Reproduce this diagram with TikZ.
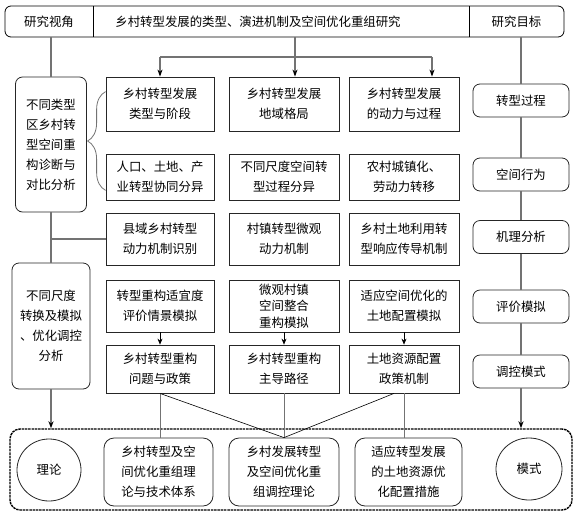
\documentclass[tikz,border=0pt]{standalone}
\usepackage{fontspec}
\setmainfont{Noto Sans CJK SC}
\usetikzlibrary{arrows.meta,shapes.geometric,decorations.pathreplacing}

\begin{document}
\begin{tikzpicture}[x=1pt, y=-1pt,
    font=\fontsize{12.4}{20}\selectfont,
    box/.style={draw=black!85, line width=0.8pt, align=center, inner sep=0pt},
    roundbox/.style={box, rounded corners=7pt},
    goalbox/.style={roundbox, minimum width=96pt, minimum height=33pt},
    link/.style={draw=black!55, line width=1.3pt},
    arrow/.style={link, -{Stealth[length=7pt, width=5pt, black]}},
    thinlink/.style={draw=black, line width=0.6pt},
    shortarrow/.style={thinlink, -{Stealth[length=6pt, width=5pt]}}]
  \useasboundingbox (0,0) rectangle (576,515);

  % Title bar
  \node[draw, line width=0.8pt, rounded corners=6pt, minimum width=559pt, minimum height=31pt] (bar) at (284.5,21.5) {};
  \draw[line width=0.8pt] (93,6) -- (93,37);   % left divider
  \draw[line width=0.8pt] (469,6) -- (469,37); % right divider
  \node (persp) at (49,21.5) {研究视角};
  \node (topic) at (258,21.5) {乡村转型发展的类型、演进机制及空间优化重组研究};
  \node (goal)  at (516.5,21.5) {研究目标};

  % Left column
  \node[roundbox, minimum width=71pt, minimum height=135pt] (l1) at (51,144.5) {不同类型\\区乡村转\\型空间重\\构诊断与\\对比分析};
  \node[roundbox, minimum width=78pt, minimum height=126pt] (l2) at (51,326) {不同尺度\\转换及模拟\\、优化调控\\分析};

  % Middle boxes, row by row
  \node[box, minimum width=108pt, minimum height=54pt] (a1) at (160,104) {乡村转型发展\\类型与阶段};
  \node[box, minimum width=110pt, minimum height=54pt] (a2) at (284,104) {乡村转型发展\\地域格局};
  \node[box, minimum width=110pt, minimum height=54pt] (a3) at (404,104) {乡村转型发展\\的动力与过程};

  \node[box, minimum width=108pt, minimum height=46pt] (b1) at (160,177) {人口、土地、产\\业转型协同分异};
  \node[box, minimum width=110pt, minimum height=46pt] (b2) at (284,177) {不同尺度空间转\\型过程分异};
  \node[box, minimum width=110pt, minimum height=46pt] (b3) at (404,177) {农村城镇化、\\劳动力转移};

  \node[box, minimum width=108pt, minimum height=52pt] (c1) at (160,239) {县域乡村转型\\动力机制识别};
  \node[box, minimum width=110pt, minimum height=52pt] (c2) at (284,239) {村镇转型微观\\动力机制};
  \node[box, minimum width=110pt, minimum height=52pt] (c3) at (404,239) {乡村土地利用转\\型响应传导机制};

  \node[box, minimum width=108pt, minimum height=52pt] (d1) at (160,306) {转型重构适宜度\\评价情景模拟};
  \node[box, minimum width=110pt, minimum height=52pt, font=\fontsize{12.4}{16.5}\selectfont] (d2) at (284,306) {微观村镇\\空间整合\\重构模拟};
  \node[box, minimum width=110pt, minimum height=52pt] (d3) at (404,306) {适应空间优化的\\土地配置模拟};

  \node[box, minimum width=108pt, minimum height=48pt] (e1) at (160,369) {乡村转型重构\\问题与政策};
  \node[box, minimum width=110pt, minimum height=48pt] (e2) at (284,369) {乡村转型重构\\主导路径};
  \node[box, minimum width=110pt, minimum height=48pt] (e3) at (404,369) {土地资源配置\\政策机制};

  % Right column
  \node[goalbox] (g1) at (521,100.5) {转型过程};
  \node[goalbox] (g2) at (521,174.5) {空间行为};
  \node[goalbox] (g3) at (521,237)   {机理分析};
  \node[goalbox] (g4) at (521,306.5) {评价模拟};
  \node[goalbox] (g5) at (521,371.5) {调控模式};

  % Bottom frame
  \node[draw=black, line width=1.4pt, dash pattern=on 2.5pt off 0.8pt, rounded corners=10pt,
        minimum width=562pt, minimum height=81pt] (frame) at (291,469.5) {};
  \node[draw=black!85, line width=0.8pt, ellipse, minimum width=64pt, minimum height=62pt] (theory) at (49,470) {理论};
  \node[draw=black!85, line width=0.8pt, ellipse, minimum width=66pt, minimum height=62pt] (mode) at (529,469) {模式};
  \node[roundbox, rounded corners=10pt, minimum width=109pt, minimum height=68pt] (f1) at (158.5,472) {乡村转型及空\\间优化重组理\\论与技术体系};
  \node[roundbox, rounded corners=10pt, minimum width=110pt, minimum height=68pt] (f2) at (284,472)   {乡村发展转型\\及空间优化重\\组调控理论};
  \node[roundbox, rounded corners=10pt, minimum width=107pt, minimum height=68pt] (f3) at (408.5,472) {适应转型发展\\的土地资源优\\化配置措施};

  % Top fork
  \coordinate (drop1) at (a1.north);
  \coordinate (drop2) at ([xshift=11pt]a2.north);
  \coordinate (drop3) at ([xshift=28pt]a3.north);
  \coordinate (fork) at (295,57);
  \draw[link] (drop1 |- fork) -- (drop3 |- fork);
  \draw[arrow] (drop1 |- fork) -- (drop1);
  \draw[arrow] (drop2 |- bar.south) -- (drop2);
  \draw[arrow] (drop3 |- fork) -- (drop3);

  % Left side
  \draw[link] (l1.north |- bar.south) -- (l1.north);
  \draw[link] (l1.south) -- (l2.north);
  \draw[link] (c1.west) -- (c1.west -| l1.south);
  \draw[arrow] (l2.south) -- (l2.south |- frame.north);
  \draw[link, line width=0.8pt, decorate, decoration={brace, amplitude=18pt}]
    ([yshift=10pt]b1.south west) -- ([yshift=-15pt]a1.north west);

  % Right side
  \draw[link] (g1.north |- bar.south) -- (g1.north);
  \draw[link] (g1.south) -- (g2.north);
  \draw[link] (g2.south) -- (g3.north);
  \draw[link] (g3.south) -- (g4.north);
  \draw[link] (g4.south) -- (g5.north);
  \draw[arrow] (g5.south) -- (g5.south |- frame.north);

  % Row 4 to row 5
  \draw[shortarrow] (d1.south) -- (e1.north);
  \draw[shortarrow] (d2.south) -- (e2.north);
  \draw[shortarrow] (d3.south) -- (e3.north);

  % Down to the results
  \draw[link, line width=1pt] (e1.south) -- (e1.south |- f1.north);
  \draw[link, line width=1pt] (e2.south) -- (f2.north);
  \draw[link, line width=1pt] (e3.south) -- (e3.south |- f3.north);
  \draw[thinlink] (e1.south) -- (f2.north);
  \draw[thinlink] ([xshift=-10pt]e3.south) -- (f2.north);
\end{tikzpicture}
\end{document}
